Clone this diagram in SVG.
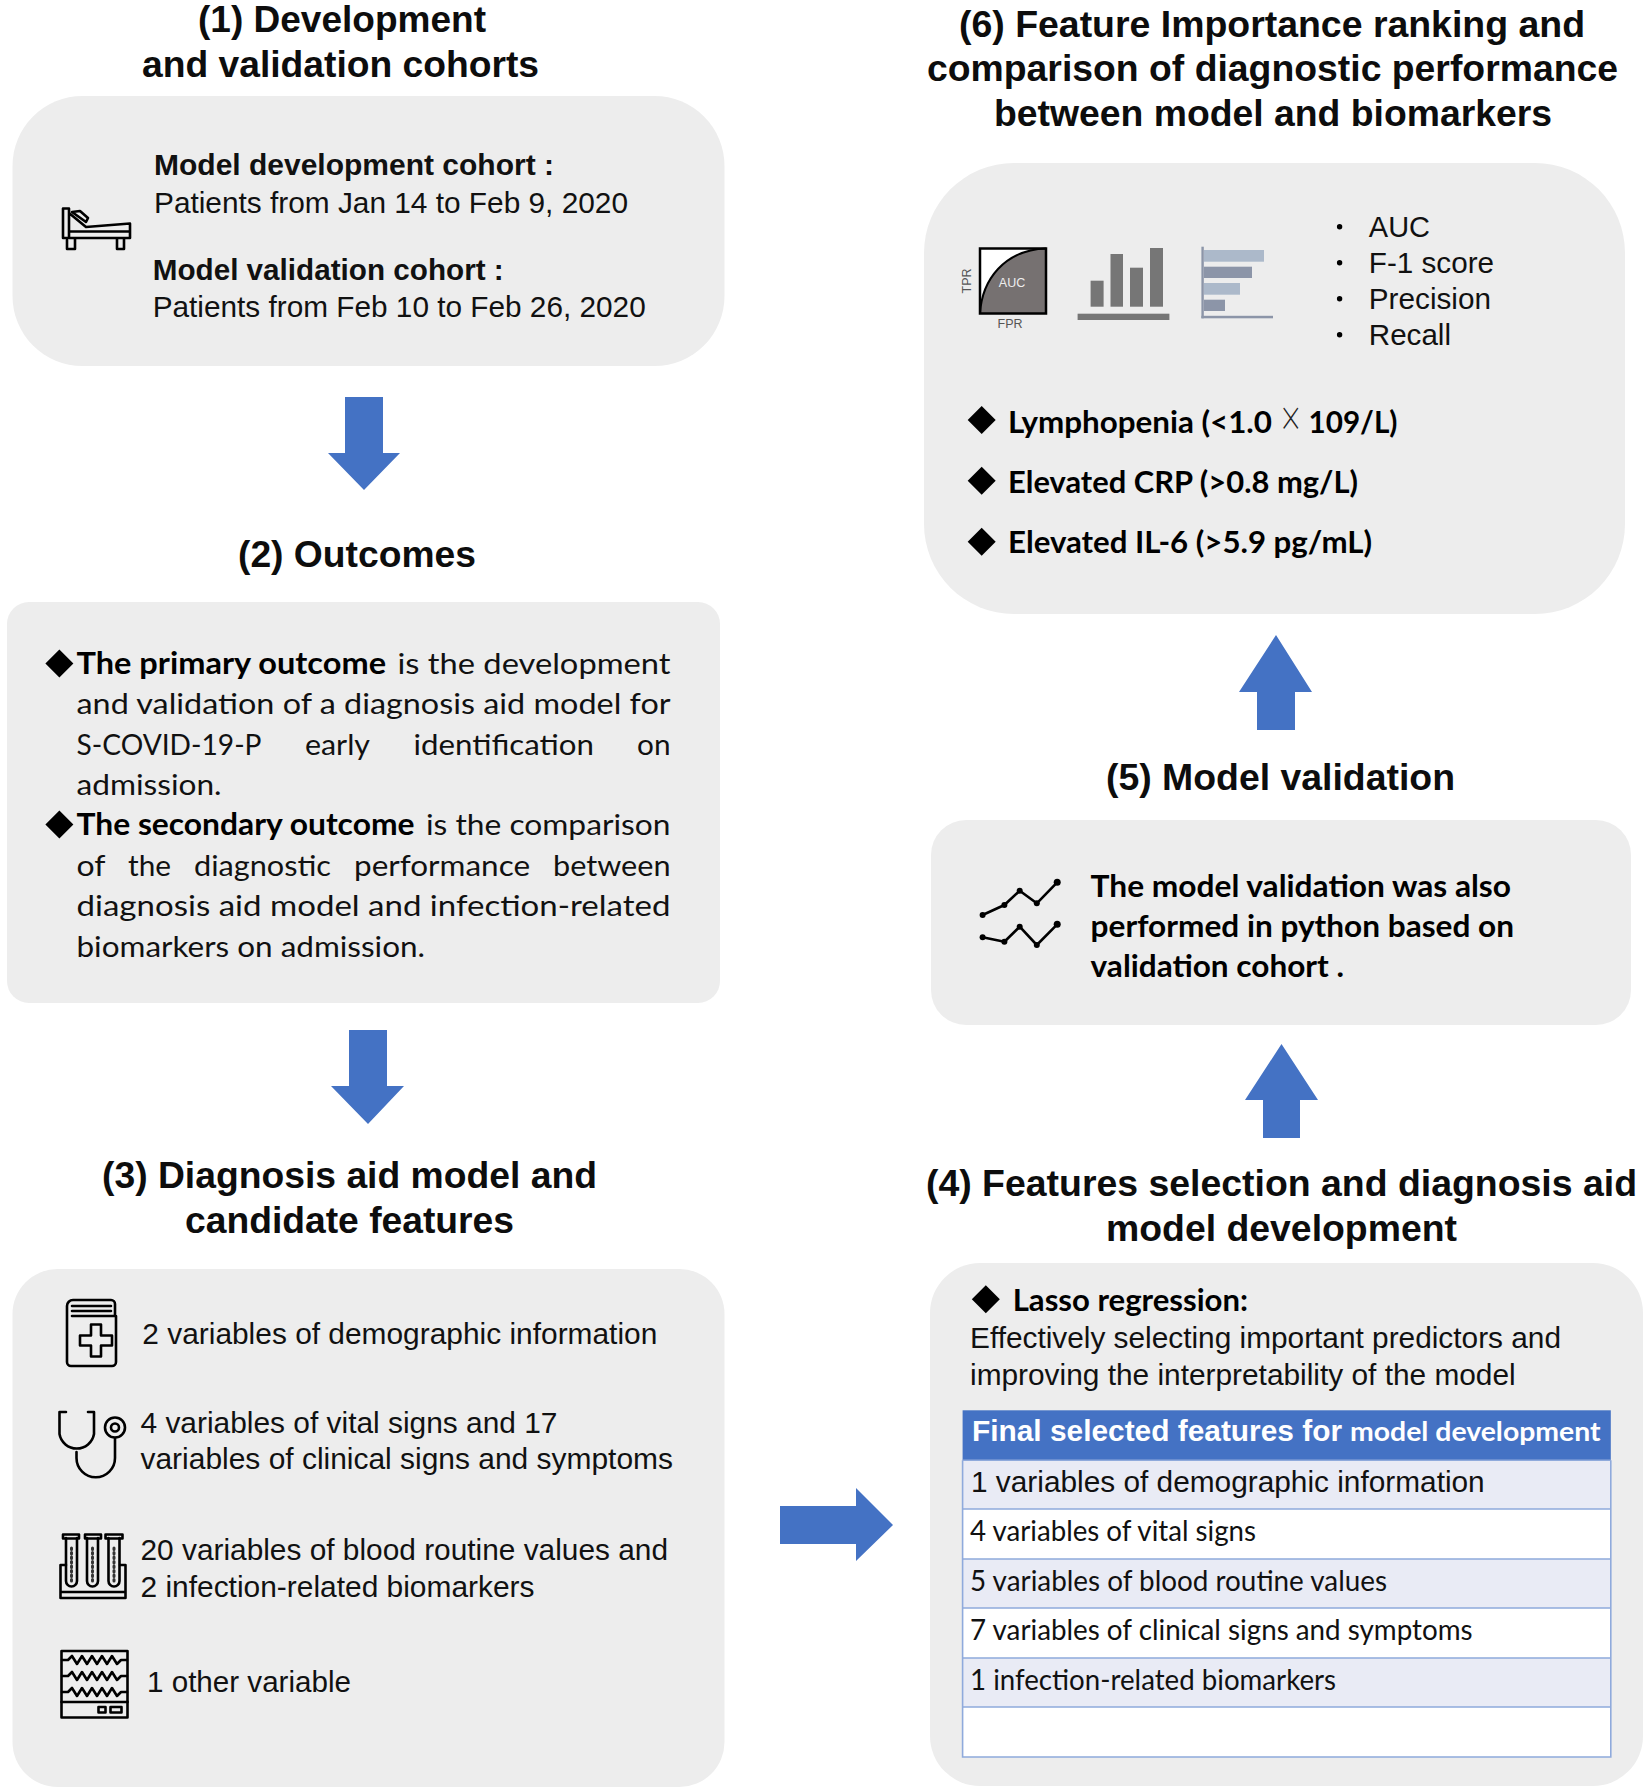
<svg xmlns="http://www.w3.org/2000/svg" width="1647" height="1791" viewBox="0 0 1647 1791">
<style>
text{fill:#000;white-space:pre}
.t{font:bold 36px "Liberation Sans",Arial,sans-serif;fill:#0d0d0d}
.a{font:30px "Liberation Sans",Arial,sans-serif;fill:#111}
.ab{font:bold 30px "Liberation Sans",Arial,sans-serif;fill:#111}
.c{font:29px Lato,"Noto Sans",sans-serif;fill:#111}
.cb{font:bold 30px Lato,"Noto Sans",sans-serif;fill:#000}
.p{fill:#ededed}
.arr{fill:#4472c4}
.i{fill:none;stroke:#000;stroke-width:2.6;stroke-linejoin:round;stroke-linecap:round}
.d{fill:#000}
.g{font:12.5px "Liberation Sans",Arial,sans-serif;fill:#555}
.bar{fill:#767676}
.s1{fill:#acb9ca}.s2{fill:#8c95a8}
.line{stroke:#8faadc;stroke-width:1.6;fill:none}
</style>
<defs>
<path id="dia" class="d" d="M0 -14L14 0L0 14L-14 0Z"/>
</defs>
<rect width="1647" height="1791" fill="#fff"/>

<g id="connectors">
<path class="arr" d="M345 397H383V453H400L364 490L328 453H345Z"/>
<path class="arr" d="M349 1030H387V1086H404L368 1124L331 1086H349Z"/>
<path class="arr" d="M780 1506H856V1488L893 1525L856 1561V1544H780Z"/>
<path class="arr" d="M1263 1138H1300V1100H1318L1281.500 1044L1245 1100H1263Z"/>
<path class="arr" d="M1257 730H1295V692H1312L1276 635L1239 692H1257Z"/>
</g>

<g id="node1">
<text class="t" x="198" y="32" textLength="288" lengthAdjust="spacingAndGlyphs">(1) Development</text>
<text class="t" x="142" y="77" textLength="397" lengthAdjust="spacingAndGlyphs">and validation cohorts</text>
<rect class="p" x="12.500" y="96" width="712" height="270" rx="70"/>
<g class="i">
<path d="M63 208.500H69V238H63ZM69 231.500H130V238H69ZM69 213L86 227L130 223.500V232M67 240V249H75V239M117 239V249H124V239"/>
<path d="M72 212L80 211L88 218L86 222Z"/>
</g>
<text class="ab" x="154" y="175" textLength="400" lengthAdjust="spacingAndGlyphs">Model development cohort :</text>
<text class="a" x="154" y="213" textLength="474" lengthAdjust="spacingAndGlyphs">Patients from Jan 14 to Feb 9, 2020</text>
<text class="ab" x="152.700" y="280" textLength="351" lengthAdjust="spacingAndGlyphs">Model validation cohort :</text>
<text class="a" x="152.700" y="317" textLength="493" lengthAdjust="spacingAndGlyphs">Patients from Feb 10 to Feb 26, 2020</text>
</g>

<g id="node2">
<text class="t" x="238" y="567" textLength="238" lengthAdjust="spacingAndGlyphs">(2) Outcomes</text>
<rect class="p" x="7" y="602" width="713" height="401" rx="22"/>
<use href="#dia" x="59.400" y="663.600"/>
<use href="#dia" x="59.400" y="824.600"/>
<text class="cb" x="76.500" y="674" textLength="309.500" lengthAdjust="spacingAndGlyphs">The primary outcome</text>
<text class="c" x="397.500" y="674" textLength="273" lengthAdjust="spacingAndGlyphs">is the development</text>
<text class="c" x="76.500" y="714" textLength="594" lengthAdjust="spacingAndGlyphs">and validation of a diagnosis aid model for</text>
<text class="c" x="76.500" y="755" textLength="185" lengthAdjust="spacingAndGlyphs">S-COVID-19-P</text>
<text class="c" x="305" y="755" textLength="65" lengthAdjust="spacingAndGlyphs">early</text>
<text class="c" x="413.500" y="755" textLength="180.500" lengthAdjust="spacingAndGlyphs">identification</text>
<text class="c" x="637" y="755" textLength="33.500" lengthAdjust="spacingAndGlyphs">on</text>
<text class="c" x="76.500" y="795" textLength="145" lengthAdjust="spacingAndGlyphs">admission.</text>
<text class="cb" x="76.500" y="835" textLength="338" lengthAdjust="spacingAndGlyphs">The secondary outcome</text>
<text class="c" x="426" y="835" textLength="244.500" lengthAdjust="spacingAndGlyphs">is the comparison</text>
<text class="c" x="76.500" y="876" textLength="29" lengthAdjust="spacingAndGlyphs">of</text>
<text class="c" x="128" y="876" textLength="43" lengthAdjust="spacingAndGlyphs">the</text>
<text class="c" x="194" y="876" textLength="137" lengthAdjust="spacingAndGlyphs">diagnostic</text>
<text class="c" x="354" y="876" textLength="176" lengthAdjust="spacingAndGlyphs">performance</text>
<text class="c" x="553" y="876" textLength="117.500" lengthAdjust="spacingAndGlyphs">between</text>
<text class="c" x="76.500" y="916" textLength="594" lengthAdjust="spacingAndGlyphs">diagnosis aid model and infection-related</text>
<text class="c" x="76.500" y="957" textLength="348.500" lengthAdjust="spacingAndGlyphs">biomarkers on admission.</text>
</g>

<g id="node3">
<text class="t" x="102" y="1188" textLength="495" lengthAdjust="spacingAndGlyphs">(3) Diagnosis aid model and</text>
<text class="t" x="185" y="1233" textLength="329" lengthAdjust="spacingAndGlyphs">candidate features</text>
<rect class="p" x="12.500" y="1269" width="712" height="518" rx="45"/>
<g class="i">
<path d="M72 1316H116V1362A4 4 0 0 1 112 1366H71A4 4 0 0 1 67 1362V1306A6 6 0 0 1 73 1300H111A4 4 0 0 1 115 1304V1316"/>
<path d="M72 1306H111M72 1311H111"/>
<path d="M91 1324.500H101V1335.500H112V1345.500H101V1356.500H91V1345.500H80V1335.500H91Z"/>
<path d="M66 1412H59.500V1434A17.500 17.500 0 0 0 94 1434V1412H88M76.500 1452V1458A19 19 0 0 0 115 1458V1438"/>
<circle cx="115" cy="1427.500" r="10"/><circle cx="115" cy="1427.500" r="4"/>
<path d="M66 1538V1581A5.500 5.500 0 0 0 77 1581V1538M87 1538V1581A5.500 5.500 0 0 0 98 1581V1538M108.500 1538V1581A5.500 5.500 0 0 0 119.500 1581V1538"/>
<path d="M63 1534.500H79V1538.500H63ZM85 1534.500H101V1538.500H85ZM105.500 1534.500H122.500V1538.500H105.500Z"/>
<path d="M66 1565H60.500V1598H125.500V1565H120M60.500 1592H125.500"/>
<rect x="61.500" y="1651" width="66" height="66.500"/>
<path d="M61.500 1702H127.500"/>
<path d="M62 1660H68L72 1656L77 1664L82 1656L87 1664L92 1656L97 1664L102 1656L107 1664L112 1656L117 1664L121 1660H127M62 1676H68L72 1672L77 1680L82 1672L87 1680L92 1672L97 1680L102 1672L107 1680L112 1672L117 1680L121 1676H127M62 1692H68L72 1688L77 1696L82 1688L87 1696L92 1688L97 1696L102 1688L107 1696L112 1688L117 1696L121 1692H127"/>
<rect x="98.500" y="1707" width="7" height="5.500"/><rect x="110.500" y="1707" width="11" height="5.500"/>
</g>
<g fill="none" stroke="#333" stroke-width="3" stroke-dasharray="1.500 3" stroke-linecap="round">
<path d="M71.500 1548V1584M92.500 1548V1584M114 1548V1584"/>
</g>
<text class="a" x="142.300" y="1344" textLength="515" lengthAdjust="spacingAndGlyphs">2 variables of demographic information</text>
<text class="a" x="140.500" y="1433" textLength="417" lengthAdjust="spacingAndGlyphs">4 variables of vital signs and 17</text>
<text class="a" x="140.500" y="1469" textLength="532.500" lengthAdjust="spacingAndGlyphs">variables of clinical signs and symptoms</text>
<text class="a" x="140.500" y="1560" textLength="527.500" lengthAdjust="spacingAndGlyphs">20 variables of blood routine values and</text>
<text class="a" x="140.500" y="1596.500" textLength="394" lengthAdjust="spacingAndGlyphs">2 infection-related biomarkers</text>
<text class="a" x="147" y="1692" textLength="204" lengthAdjust="spacingAndGlyphs">1 other variable</text>
</g>

<g id="node4">
<text class="t" x="926" y="1196" textLength="711" lengthAdjust="spacingAndGlyphs">(4) Features selection and diagnosis aid</text>
<text class="t" x="1106" y="1241" textLength="351" lengthAdjust="spacingAndGlyphs">model development</text>
<rect class="p" x="930" y="1263" width="713" height="523" rx="50"/>
<use href="#dia" x="985.800" y="1299.300"/>
<text class="cb" x="1012.700" y="1311.400" textLength="235.300" lengthAdjust="spacingAndGlyphs">Lasso regression:</text>
<text class="a" x="970" y="1348" textLength="591" lengthAdjust="spacingAndGlyphs">Effectively selecting important predictors and</text>
<text class="a" x="970" y="1384.500" textLength="545.700" lengthAdjust="spacingAndGlyphs">improving the interpretability of the model</text>
<rect x="962.600" y="1410.300" width="648.200" height="50" fill="#4472c4"/>
<rect x="962.600" y="1460" width="648.200" height="49" fill="#e9ebf5"/>
<rect x="962.600" y="1509" width="648.200" height="50" fill="#fff"/>
<rect x="962.600" y="1559" width="648.200" height="49" fill="#e9ebf5"/>
<rect x="962.600" y="1608" width="648.200" height="50" fill="#fff"/>
<rect x="962.600" y="1658" width="648.200" height="49" fill="#e9ebf5"/>
<rect x="962.600" y="1707" width="648.200" height="50" fill="#fff"/>
<path class="line" d="M962.600 1460.300V1757H1610.800V1460.300M962.600 1460.300H1610.800M962.600 1509H1610.800M962.600 1559H1610.800M962.600 1608H1610.800M962.600 1658H1610.800M962.600 1707H1610.800"/>
<text class="ab" style="fill:#fff" x="972" y="1441" textLength="370" lengthAdjust="spacingAndGlyphs">Final selected features for</text>
<text class="cb" style="fill:#fff;font-size:27px" x="1350" y="1441" textLength="250.600" lengthAdjust="spacingAndGlyphs">model development</text>
<text class="a" x="971" y="1492.400" textLength="513.700" lengthAdjust="spacingAndGlyphs">1 variables of demographic information</text>
<text class="c" x="970" y="1541" textLength="286" lengthAdjust="spacingAndGlyphs">4 variables of vital signs</text>
<text class="c" x="970" y="1590.700" textLength="417" lengthAdjust="spacingAndGlyphs">5 variables of blood routine values</text>
<text class="c" x="970" y="1640" textLength="502.600" lengthAdjust="spacingAndGlyphs">7 variables of clinical signs and symptoms</text>
<text class="c" x="970" y="1689.600" textLength="366" lengthAdjust="spacingAndGlyphs">1 infection-related biomarkers</text>
</g>

<g id="node5">
<text class="t" x="1106" y="790" textLength="349" lengthAdjust="spacingAndGlyphs">(5) Model validation</text>
<rect class="p" x="931" y="820" width="700" height="205" rx="35"/>
<g class="i">
<path d="M982.600 915L1004.400 905L1019.700 890.700L1036.800 903.300L1057.200 882.300M982.600 937.300L1004.400 941.700L1019.700 926.700L1036.800 945L1057.200 924.300"/>
</g>
<g class="d">
<circle cx="982.600" cy="915" r="3"/><circle cx="1004.400" cy="905" r="3"/><circle cx="1019.700" cy="890.700" r="3"/><circle cx="1036.800" cy="903.300" r="3"/><circle cx="1057.200" cy="882.300" r="3.500"/>
<circle cx="982.600" cy="937.300" r="3"/><circle cx="1004.400" cy="941.700" r="3"/><circle cx="1019.700" cy="926.700" r="3"/><circle cx="1036.800" cy="945" r="3"/><circle cx="1057.200" cy="924.300" r="3.500"/>
</g>
<text class="cb" x="1090.600" y="897" textLength="420.400" lengthAdjust="spacingAndGlyphs">The model validation was also</text>
<text class="cb" x="1090.600" y="937" textLength="423.400" lengthAdjust="spacingAndGlyphs">performed in python based on</text>
<text class="cb" x="1090.600" y="977" textLength="253.400" lengthAdjust="spacingAndGlyphs">validation cohort .</text>
</g>

<g id="node6">
<text class="t" x="959" y="36.500" textLength="626" lengthAdjust="spacingAndGlyphs">(6) Feature Importance ranking and</text>
<text class="t" x="927" y="81" textLength="691" lengthAdjust="spacingAndGlyphs">comparison of diagnostic performance</text>
<text class="t" x="994" y="126" textLength="558" lengthAdjust="spacingAndGlyphs">between model and biomarkers</text>
<rect class="p" x="924" y="163" width="701" height="451" rx="90"/>
<rect x="980" y="248.500" width="66" height="65" fill="#fff"/>
<path d="M980 313.500C982 280 1004 250 1046 248.500V313.500Z" fill="#767171"/>
<rect x="980" y="248.500" width="66" height="65" fill="none" stroke="#000" stroke-width="2.500"/>
<path d="M980 313.500C982 280 1004 250 1046 248.500" fill="none" stroke="#000" stroke-width="2"/>
<text class="g" style="fill:#eee" x="1012" y="287" text-anchor="middle">AUC</text>
<text class="g" x="1010" y="328" text-anchor="middle">FPR</text>
<text class="g" x="0" y="0" text-anchor="middle" transform="translate(970.500 281) rotate(-90)">TPR</text>
<g>
<rect class="bar" x="1077.600" y="313.700" width="91.800" height="6.300"/>
<rect class="bar" x="1090.600" y="280.700" width="13" height="26"/>
<rect class="bar" x="1110.500" y="254" width="12.500" height="52.700"/>
<rect class="bar" x="1130" y="267.700" width="13" height="39"/>
<rect class="bar" x="1150" y="248" width="13" height="58.700"/>
</g>
<g>
<rect class="s2" x="1201.400" y="246.700" width="2.400" height="71.600"/>
<rect class="s2" x="1201.400" y="315.800" width="71.600" height="2.500"/>
<rect class="s1" x="1204" y="250" width="60" height="11.700"/>
<rect class="s2" x="1204" y="266.700" width="48" height="11.300"/>
<rect class="s1" x="1204" y="283" width="36" height="11.700"/>
<rect class="s2" x="1204" y="299.700" width="21" height="11.300"/>
</g>
<g class="d">
<circle cx="1339.600" cy="226.700" r="2.700"/><circle cx="1339.600" cy="262.700" r="2.700"/><circle cx="1339.600" cy="298.700" r="2.700"/><circle cx="1339.600" cy="334.700" r="2.700"/>
</g>
<text class="a" x="1368.800" y="236.700" textLength="61.200" lengthAdjust="spacingAndGlyphs">AUC</text>
<text class="a" x="1368.800" y="273.300" textLength="125.200" lengthAdjust="spacingAndGlyphs">F-1 score</text>
<text class="a" x="1368.800" y="309.300" textLength="122.200" lengthAdjust="spacingAndGlyphs">Precision</text>
<text class="a" x="1368.800" y="345" textLength="82.200" lengthAdjust="spacingAndGlyphs">Recall</text>
<use href="#dia" x="981.700" y="420"/>
<use href="#dia" x="981.700" y="480.700"/>
<use href="#dia" x="981.700" y="541.700"/>
<text class="cb" x="1008" y="432.700" textLength="264" lengthAdjust="spacingAndGlyphs">Lymphopenia (&lt;1.0</text>
<path d="M1279.500 408.500L1302 431M1302 408.500L1279.500 431" stroke="#222" stroke-width="1.500" fill="none" opacity="0"/>
<text x="1279" y="431" textLength="23.500" lengthAdjust="spacingAndGlyphs" style="font:300 34px 'Noto Sans CJK SC',sans-serif;fill:#222">×</text>
<text class="cb" x="1308.500" y="432.700" textLength="89" lengthAdjust="spacingAndGlyphs">109/L)</text>
<text class="cb" x="1008" y="493" textLength="350" lengthAdjust="spacingAndGlyphs">Elevated CRP (&gt;0.8 mg/L)</text>
<text class="cb" x="1008" y="553" textLength="364" lengthAdjust="spacingAndGlyphs">Elevated IL-6 (&gt;5.9 pg/mL)</text>
</g>
</svg>
